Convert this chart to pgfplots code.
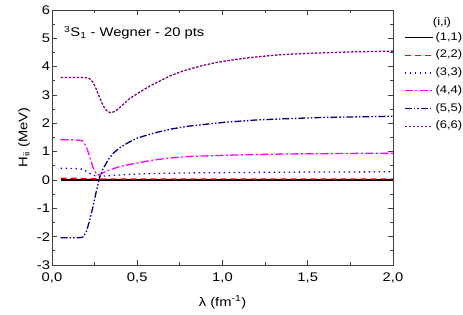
\documentclass[border=0pt]{standalone}
\usepackage{fontspec}
\setmainfont{Liberation Sans}[FakeStretch=1.18]
\usepackage{pgfplots}
\pgfplotsset{compat=1.18}
\definecolor{cRed}{RGB}{255,0,0}
\definecolor{cBlue}{RGB}{0,0,255}
\definecolor{cMag}{RGB}{255,0,255}
\definecolor{cNavy}{RGB}{0,0,128}
\definecolor{cPurp}{RGB}{128,0,128}
\begin{document}
\begin{tikzpicture}[font=\fontsize{12.5}{15}\selectfont]
\useasboundingbox (-52pt,-49pt) rectangle (411pt,265pt);
\begin{axis}[
  scale only axis, width=341pt, height=255pt,
  xmin=0, xmax=2, ymin=-3, ymax=6,
  xtick={0,0.5,1,1.5,2}, minor x tick num=1,
  ytick={-3,-2,-1,0,1,2,3,4,5,6}, minor y tick num=1,
  tick align=inside, major tick length=5pt, minor tick length=3pt,
  /pgf/number format/assume math mode=true,
  xticklabel style={yshift=-4pt, /pgf/number format/.cd, fixed, fixed zerofill, precision=1, use comma},
  yticklabel style={xshift=1.5pt},
  axis line style={line width=0.9pt, black!75},
  every tick/.style={black!75, line width=0.8pt},
  xlabel={λ (fm\textsuperscript{-1})},
  xlabel style={yshift=-6pt},
  ylabel={H\textsubscript{ii} (MeV)},
  legend style={at={(1,1)}, anchor=north west, xshift=8pt, yshift=-20pt,
    draw=none, fill=none, font=\fontsize{11}{13}\selectfont,
    nodes={inner sep=0pt, text height=8pt, text depth=3pt},
    row sep=6.7pt, column sep=2pt, cells={anchor=west}},
  legend image code/.code={\draw[#1] (0pt,0pt) -- (28pt,0pt);},
]
\addplot[black, line width=1.1pt] coordinates {(0.05,0) (2.0,0)};
\addlegendentry{(1,1)}
\addplot[cRed, line width=1.3pt, dash pattern=on 6pt off 4pt] coordinates {
(0.05,0.06) (0.15,0.06) (0.2,0.05) (0.25,0.04) (0.3,0.035) (0.5,0.035) (1.0,0.035) (2.0,0.035)};
\addlegendentry{(2,2)}
\addplot[cBlue, line width=1.3pt, dash pattern=on 1.4pt off 3.6pt] coordinates {
(0.05,0.41) (0.10,0.41) (0.15,0.40) (0.18,0.38) (0.21,0.28) (0.24,0.17) (0.27,0.13) (0.30,0.14)
(0.35,0.16) (0.40,0.18) (0.50,0.21) (0.60,0.23) (0.80,0.25) (1.00,0.26) (1.50,0.28) (2.00,0.29)};
\addlegendentry{(3,3)}
\addplot[cMag, line width=1.3pt, dash pattern=on 8pt off 2.5pt on 2pt off 2.5pt] coordinates {
(0.05,1.42) (0.10,1.42) (0.15,1.41) (0.18,1.38) (0.20,1.20) (0.22,0.85) (0.24,0.45) (0.26,0.22)
(0.27,0.18) (0.29,0.22) (0.32,0.32) (0.36,0.40) (0.40,0.48) (0.50,0.60) (0.60,0.71) (0.70,0.78)
(0.80,0.83) (1.00,0.87) (1.20,0.90) (1.40,0.92) (1.60,0.93) (1.80,0.94) (2.00,0.94)};
\addlegendentry{(4,4)}
\addplot[cNavy, line width=1.3pt, dash pattern=on 7pt off 2pt on 1.5pt off 2pt on 1.5pt off 2pt] coordinates {
(0.05,-2.04) (0.10,-2.04) (0.15,-2.04) (0.18,-2.02) (0.20,-1.85) (0.22,-1.45) (0.24,-0.95) (0.26,-0.40)
(0.28,0.10) (0.30,0.40) (0.33,0.72) (0.36,0.95) (0.40,1.15) (0.45,1.33) (0.50,1.48) (0.60,1.66)
(0.70,1.80) (0.80,1.90) (1.00,2.03) (1.20,2.12) (1.40,2.17) (1.60,2.21) (1.80,2.23) (2.00,2.25)};
\addlegendentry{(5,5)}
\addplot[cPurp, line width=1.3pt, dash pattern=on 2.5pt off 1.5pt] coordinates {
(0.05,3.62) (0.10,3.62) (0.15,3.62) (0.20,3.61) (0.22,3.58) (0.24,3.45) (0.26,3.20) (0.28,2.90)
(0.30,2.62) (0.32,2.45) (0.34,2.38) (0.36,2.40) (0.38,2.47) (0.40,2.57) (0.45,2.85) (0.50,3.05)
(0.575,3.32) (0.69,3.67) (0.77,3.85) (0.87,4.02) (0.966,4.15) (1.06,4.24) (1.16,4.32) (1.26,4.38)
(1.357,4.43) (1.55,4.48) (1.75,4.52) (2.00,4.55)};
\addlegendentry{(6,6)}
\end{axis}
\node[anchor=base west, inner sep=0pt] at (12pt,228.3pt) {\textsuperscript{3}S\textsubscript{1} - Wegner - 20 pts};
\node[font=\fontsize{11}{13}\selectfont] at (390pt,242pt) {(i,i)};
\end{tikzpicture}
\end{document}
